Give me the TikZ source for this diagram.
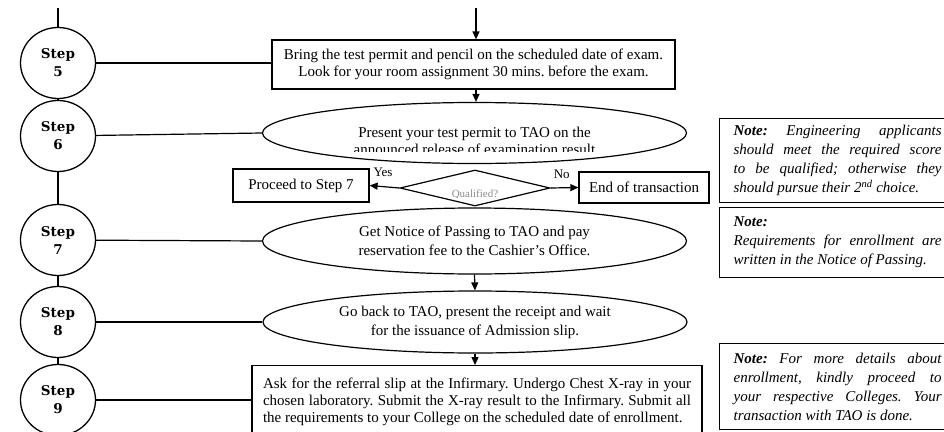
\documentclass[tikz,border=0pt]{standalone}
\usepackage{fontspec}
\setmainfont{Liberation Serif}
\newfontfamily\stepfont{DejaVu Serif}
\usetikzlibrary{shapes.geometric,arrows.meta}
\frenchspacing

\begin{document}
\begin{tikzpicture}[x=1pt,y=-1pt,line width=1.2pt,
  stepcircle/.style={draw,ellipse,minimum width=75pt,minimum height=71pt,inner sep=0pt,
    line width=1.3pt,align=center,font=\stepfont\bfseries\fontsize{13.5}{18}\selectfont},
  taskbox/.style={draw,rectangle,inner sep=0pt,align=center,font=\fontsize{15}{17.5}\selectfont},
  taskoval/.style={draw,ellipse,inner sep=0pt,minimum width=424pt,align=center,
    font=\fontsize{15}{19}\selectfont},
  notebox/.style={draw,rectangle,anchor=north west,text width=208pt,align=justify,
    inner xsep=14pt,font=\fontsize{15}{19}\selectfont\itshape},
  flow/.style={-{Triangle[width=7pt,length=8pt]}},
  answer/.style={font=\fontsize{13}{14}\selectfont,inner sep=0pt},
]
\clip (0,0) rectangle (944,431);
\fill[white] (0,0) rectangle (944,431);

% step markers on the left
\node[stepcircle] (s5) at (58,63)  {Step\\5};
\node[stepcircle] (s6) at (58,136) {Step\\6};
\node[stepcircle] (s7) at (58,240) {Step\\7};
\node[stepcircle] (s8) at (58,322) {Step\\8};
\node[stepcircle] (s9) at (58,400) {Step\\9};

\coordinate (lt) at (58,8);
\draw (lt) -- (s5);
\draw (s5) -- (s6);
\draw (s6) -- (s7);
\draw (s7) -- (s8);
\draw (s8) -- (s9);

% main process
\node[taskbox,minimum width=403pt,minimum height=49pt] (b5) at (473.5,64.5)
  {Bring the test permit and pencil on the scheduled date of exam.\\
   Look for your room assignment 30 mins. before the exam.};

\node[taskoval,minimum height=61pt] (e6) at (474.5,133) {};
\begin{scope}
  \clip (262,100) rectangle (688,151);
  \node[align=center,inner sep=0pt,font=\fontsize{15}{17.5}\selectfont] (t6) at (474.5,141)
    {Present your test permit to TAO on the\\announced release of examination result};
\end{scope}

\node[draw,diamond,minimum width=150pt,minimum height=36pt,inner sep=0pt] (q) at (475,188) {};
\begin{scope}
  \clip (400,170) rectangle (550,197);
  \node[text=black!45,inner sep=0pt,font=\fontsize{11}{12}\selectfont] (tq) at (475,195) {Qualified?};
\end{scope}

\node[taskbox,minimum width=136pt,minimum height=33pt] (yes) at (301,185.5) {Proceed to Step 7};
\node[taskbox,minimum width=130pt,minimum height=31pt] (no) at (644,187.5) {End of transaction};
\draw[flow] (q.west) -- node[answer,above=9pt,pos=0.55] {Yes} (yes.east);
\draw[flow] (q.east) -- node[answer,above=9pt,pos=0.4] {No} (no.west);

\node[taskoval,minimum height=66pt] (e7) at (474.5,241)
  {Get Notice of Passing to TAO and pay\\reservation fee to the Cashier's Office.};
\node[taskoval,minimum height=62pt] (e8) at (475,322)
  {Go back to TAO, present the receipt and wait\\for the issuance of Admission slip.};

\node[draw,anchor=north,text width=428pt,align=justify,inner xsep=11pt,inner ysep=12pt,
  font=\fontsize{15}{17.3}\selectfont] (b9) at (477,365)
  {Ask for the referral slip at the Infirmary. Undergo Chest X-ray in your\linebreak
   chosen laboratory. Submit the X-ray result to the Infirmary. Submit all\linebreak
   the requirements to your College on the scheduled date of enrollment.};

% links from the step markers
\draw (s5) -- (s5 -| b5.west);
\draw (s6) -- (e6.west);
\draw (s7) -- (e7.west);
\draw (s8) -- (e8.west);
\draw (s9) -- (s9 -| b9.west);

% flow arrows
\coordinate (at) at (476,8);
\draw[flow] (at) -- (at |- b5.north);
\draw[flow] (b5.south -| 476,0) -- (476,0 |- e6.north);
\draw[flow] (e7.south) -- (e8.north);
\draw[flow] (e8.south) -- (e8.south |- b9.north);

% notes on the right
\node[notebox,minimum height=84pt,inner ysep=5pt] (n1) at (719,118)
  {\textbf{Note:} Engineering applicants\linebreak should meet the required score\linebreak
   to be qualified; otherwise they\linebreak should pursue their 2\textsuperscript{nd} choice.};
\node[notebox,minimum height=70pt,inner ysep=4pt] (n2) at (719,207)
  {\textbf{Note:}\\Requirements for enrollment are\linebreak written in the Notice of Passing.\par\vspace{14pt}};
\node[notebox,inner ysep=9pt] (n3) at (719,343)
  {\textbf{Note:} For more details about\linebreak enrollment, kindly proceed to\linebreak
   your respective Colleges. Your\linebreak transaction with TAO is done.\par\vspace{20pt}};
\end{tikzpicture}
\end{document}
